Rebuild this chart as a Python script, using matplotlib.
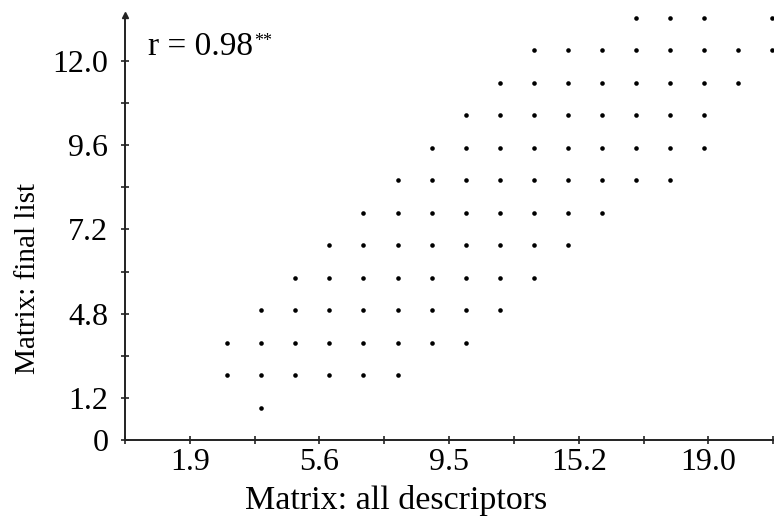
import matplotlib
matplotlib.use('Agg')
import matplotlib.pyplot as plt

# values
row_levels = [1, 2, 3, 4, 5, 6, 7, 8, 9, 10, 11, 12, 13]
row_members = [
    [4],
    [3, 4, 5, 6, 7, 8],
    [3, 4, 5, 6, 7, 8, 9, 10],
    [4, 5, 6, 7, 8, 9, 10, 11],
    [5, 6, 7, 8, 9, 10, 11, 12],
    [6, 7, 8, 9, 10, 11, 12, 13],
    [7, 8, 9, 10, 11, 12, 13, 14],
    [8, 9, 10, 11, 12, 13, 14, 15, 16],
    [9, 10, 11, 12, 13, 14, 15, 16, 17],
    [10, 11, 12, 13, 14, 15, 16, 17],
    [11, 12, 13, 14, 15, 16, 17, 18],
    [12, 13, 14, 15, 16, 17, 18, 19],
    [15, 16, 17, 19],
]

x_tick_step = 1.903
x_tick_labels = ['', '1.9', '', '5.6', '', '9.5', '', '15.2', '', '19.0', '']
y_tick_step = 1.296
y_tick_labels = ['0', '1.2', '', '4.8', '', '7.2', '', '9.6', '', '12.0']

r_text = 'r = 0.98'
r_sig = '**'

all_desc = []
final_list = []
for lvl, cols in zip(row_levels, row_members):
    for c in cols:
        all_desc.append(c)
        final_list.append(lvl)

plt.rcParams['font.family'] = ['Liberation Serif', 'DejaVu Serif']

W, H = 774, 518
fig = plt.figure(figsize=(W / 100, H / 100), dpi=100)
ax = fig.add_axes([125 / W, 78 / H, 649 / W, 425 / H])

ax.plot(all_desc, final_list, 'o', color='black', ms=3.3,
        mec='none', clip_on=False)

ax.set_xlim(0, 19.05)
ax.set_ylim(0, 13.08)

ax.set_xticks([k * x_tick_step for k in range(len(x_tick_labels))])
ax.set_xticklabels(x_tick_labels)
ax.set_yticks([k * y_tick_step for k in range(len(y_tick_labels))])
ax.set_yticklabels(y_tick_labels)

ax.tick_params(axis='both', direction='inout', length=6, width=1.2,
               color='#222222', labelsize=23, labelcolor='black')
ax.tick_params(axis='x', pad=3)
ax.tick_params(axis='y', pad=9)

for s in ['top', 'right']:
    ax.spines[s].set_visible(False)
for s in ['left', 'bottom']:
    ax.spines[s].set_linewidth(1.4)
    ax.spines[s].set_color('#222222')

# arrow head on top of y axis
ax.plot([0], [1], marker='^', color='#222222', ms=5,
        transform=ax.transAxes, clip_on=False)

ax.set_xlabel('Matrix: all descriptors', fontsize=24.5)
ax.xaxis.set_label_coords(0.418, -0.105)
ax.set_ylabel('Matrix: final list', fontsize=21)
ax.yaxis.set_label_coords(-0.13, 0.379)

t = ax.text(0.035, 0.906, r_text, transform=ax.transAxes,
            fontsize=24, ha='left', va='baseline')
ax.annotate(r_sig, xy=(1, 1), xycoords=t, xytext=(1, -1),
            textcoords='offset points', fontsize=13, ha='left', va='top')

fig.savefig('out.png', dpi=100)
